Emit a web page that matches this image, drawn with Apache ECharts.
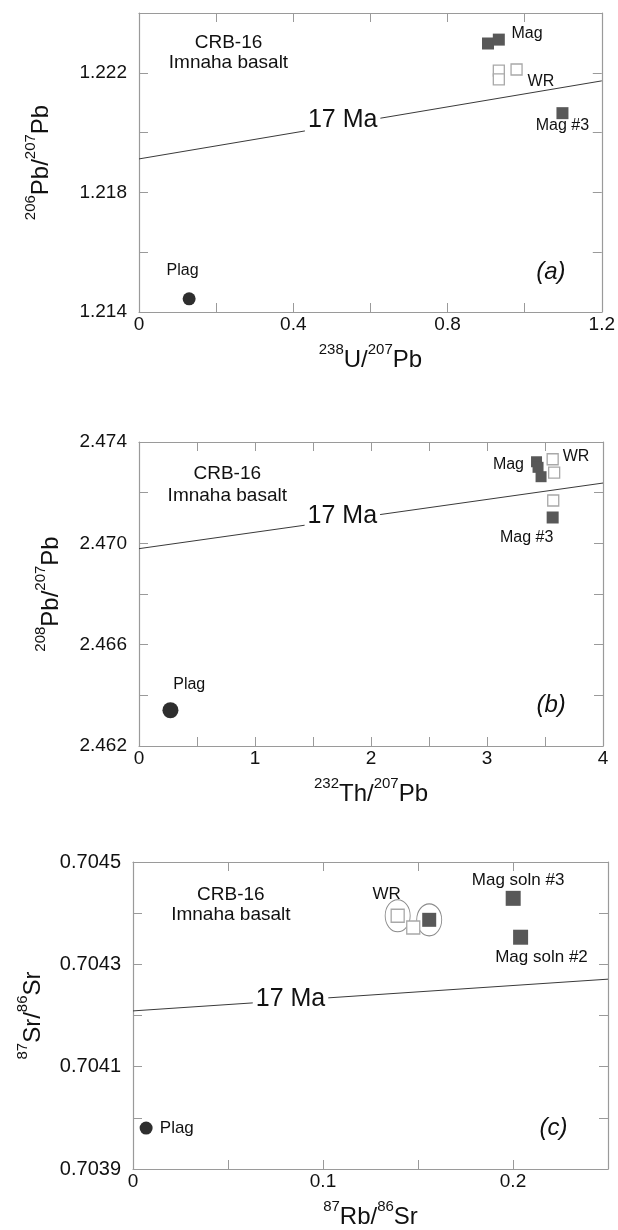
<!DOCTYPE html>
<html><head><meta charset="utf-8">
<script src="https://cdn.jsdelivr.net/npm/echarts@6/dist/echarts.min.js"></script>
<style>html,body{margin:0;padding:0;background:#fff}#c{width:618px;height:1230px}</style>
</head><body><div id="c"></div>
<script>
// ---------- Panel (a): 206Pb/207Pb vs 238U/207Pb ----------
const aMag  = [[0.905, 1.22298], [0.933, 1.22311]];
const aMag3 = [[1.098, 1.22065]];
const aWR   = [[0.933, 1.22207], [0.933, 1.22178], [0.979, 1.22211]];
const aPlag = [[0.130, 1.21444]];
const aIso  = [[0, 1.21912], [1.2, 1.22173]];
const aXTicks = ['0', '0.4', '0.8', '1.2'];
const aYTicks = ['1.214', '1.218', '1.222'];

// ---------- Panel (b): 208Pb/207Pb vs 232Th/207Pb ----------
const bMag  = [[3.427, 2.47322], [3.440, 2.47300], [3.466, 2.47263]];
const bMag3 = [[3.566, 2.47102]];
const bWR   = [[3.566, 2.47332], [3.579, 2.47279], [3.571, 2.47169]];
const bPlag = [[0.271, 2.46341]];
const bIso  = [[0, 2.46979], [4, 2.47238]];
const bXTicks = ['0', '1', '2', '3', '4'];
const bYTicks = ['2.462', '2.466', '2.470', '2.474'];

// ---------- Panel (c): 87Sr/86Sr vs 87Rb/86Sr ----------
const cMag  = [[0.2001, 0.704429], [0.2040, 0.704353]];
const cMagWR = [[0.1559, 0.704387]];
const cWR   = [[0.1393, 0.704395], [0.1475, 0.704372]];
const cCircled = [[0.1393, 0.704395], [0.1559, 0.704387]];
const cPlag = [[0.0069, 0.703980]];
const cIso  = [[0, 0.704209], [0.25, 0.704271]];
const cXTicks = ['0', '0.1', '0.2'];
const cYTicks = ['0.7039', '0.7041', '0.7043', '0.7045'];

const FONT = '"Liberation Sans", Arial, Helvetica, sans-serif';
const TXT = '#111111';
const AX = '#9a9a9a';

const nameRich = {
  m: { fontSize: 24, fontFamily: FONT, color: TXT, lineHeight: 30, verticalAlign: 'bottom' },
  s: { fontSize: 15, fontFamily: FONT, color: TXT, lineHeight: 18, verticalAlign: 'top' }
};

function labelFmt(list, dec) {
  return function (v) {
    const s = dec == null ? String(parseFloat(v.toFixed(4))) : v.toFixed(dec);
    return list.indexOf(s) >= 0 ? s : '';
  };
}

const grids = [
  { left: 139, top: 13, width: 464, height: 299 },
  { left: 139, top: 442, width: 464, height: 304 },
  { left: 133, top: 862, width: 475, height: 309 }
];

const panels = [
  { x: [0, 1.2, 0.2], y: [1.214, 1.224, 0.002], xt: aXTicks, yt: aYTicks, ydec: 3, ylf: 19,
    xname: '{s|238}{m|U/}{s|207}{m|Pb}', yname: '{s|206}{m|Pb/}{s|207}{m|Pb}', xgap: 30, ygap: 86 },
  { x: [0, 4, 0.5], y: [2.462, 2.474, 0.002], xt: bXTicks, yt: bYTicks, ydec: 3, ylf: 19,
    xname: '{s|232}{m|Th/}{s|207}{m|Pb}', yname: '{s|208}{m|Pb/}{s|207}{m|Pb}', xgap: 30, ygap: 76 },
  { x: [0, 0.25, 0.05], y: [0.7039, 0.7045, 0.0001], xt: cXTicks, yt: cYTicks, ydec: 4, ylf: 20,
    xname: '{s|87}{m|Rb/}{s|86}{m|Sr}', yname: '{s|87}{m|Sr/}{s|86}{m|Sr}', xgap: 30, ygap: 88 }
];

const xAxes = [], yAxes = [];
panels.forEach(function (p, i) {
  const base = { type: 'value', gridIndex: i, splitLine: { show: false },
    axisLine: { show: true, onZero: false, lineStyle: { color: AX, width: 1.2 } },
    axisTick: { show: true, inside: true, length: 9, lineStyle: { color: AX, width: 1 } } };
  xAxes.push(Object.assign({}, base, {
    position: 'bottom', min: p.x[0], max: p.x[1], interval: p.x[2],
    axisLabel: { fontSize: 19, color: TXT, fontFamily: FONT, margin: 3, formatter: labelFmt(p.xt, null) },
    name: p.xname, nameLocation: 'middle', nameGap: p.xgap, nameTextStyle: { rich: nameRich }
  }));
  xAxes.push(Object.assign({}, base, {
    position: 'top', min: p.x[0], max: p.x[1], interval: p.x[2], axisLabel: { show: false }
  }));
  yAxes.push(Object.assign({}, base, {
    position: 'left', min: p.y[0], max: p.y[1], interval: p.y[2],
    axisLabel: { fontSize: p.ylf, color: TXT, fontFamily: FONT, margin: 12, padding: [0, 0, 5, 0],
      formatter: labelFmt(p.yt, p.ydec) },
    name: p.yname, nameLocation: 'middle', nameGap: p.ygap, nameTextStyle: { rich: nameRich }
  }));
  yAxes.push(Object.assign({}, base, {
    position: 'right', min: p.y[0], max: p.y[1], interval: p.y[2], axisLabel: { show: false }
  }));
});

function ax(i, o) { return Object.assign({ xAxisIndex: 2 * i, yAxisIndex: 2 * i, silent: true }, o); }
function iso(i, data) {
  return ax(i, { type: 'line', data: data, showSymbol: false, symbol: 'none',
    lineStyle: { color: '#3a3a3a', width: 1 }, z: 2 });
}
function filled(i, data, size) {
  return ax(i, { type: 'scatter', data: data, symbol: 'rect', symbolSize: size,
    itemStyle: { color: '#585858', opacity: 1 }, z: 4 });
}
function open(i, data, size) {
  return ax(i, { type: 'scatter', data: data, symbol: 'rect', symbolSize: size,
    itemStyle: { color: '#ffffff', borderColor: '#a8a8a8', borderWidth: 1.3, opacity: 1 }, z: 3 });
}
function plag(i, data, size) {
  return ax(i, { type: 'scatter', data: data, symbol: 'circle', symbolSize: size,
    itemStyle: { color: '#2e2e2e', opacity: 1 }, z: 4 });
}
function t(name, x, y, size, extra) {
  return { name: name, value: [x, y],
    label: Object.assign({ fontSize: size, color: TXT, opacity: 1 }, extra || {}) };
}
function texts(i, items) {
  return ax(i, { type: 'scatter', symbolSize: 0, data: items, z: 6,
    itemStyle: { opacity: 1 },
    label: { show: true, position: 'inside', formatter: '{b}', color: TXT, fontFamily: FONT, opacity: 1 } });
}
const maLabel = { backgroundColor: '#ffffff', padding: [0, 3, 0, 3] };
const ital = { fontStyle: 'italic' };

const series = [
  // (a)
  iso(0, aIso),
  open(0, aWR, 11),
  filled(0, aMag, 12),
  filled(0, aMag3, 12),
  plag(0, aPlag, 13),
  texts(0, [
    t('CRB-16', 0.232, 1.2230, 19), t('Imnaha basalt', 0.232, 1.22233, 19),
    t('17 Ma', 0.528, 1.22043, 25, maLabel),
    t('Mag', 1.006, 1.22331, 16), t('WR', 1.042, 1.2217, 16), t('Mag #3', 1.098, 1.22023, 16),
    t('Plag', 0.113, 1.21539, 16), t('(a)', 1.068, 1.21533, 24, ital)
  ]),
  // (b)
  iso(1, bIso),
  open(1, bWR, 11),
  filled(1, bMag, 11),
  filled(1, bMag3, 12),
  plag(1, bPlag, 16),
  texts(1, [
    t('CRB-16', 0.761, 2.47275, 19), t('Imnaha basalt', 0.761, 2.47186, 19),
    t('17 Ma', 1.753, 2.47107, 25, maLabel),
    t('Mag', 3.319, 2.47312, 16, { position: 'left', distance: 0 }),
    t('WR', 3.767, 2.47341, 16), t('Mag #3', 3.342, 2.47023, 16),
    t('Plag', 0.433, 2.46443, 16), t('(b)', 3.553, 2.4636, 24, ital)
  ]),
  // (c)
  iso(2, cIso),
  ax(2, { type: 'scatter', data: cCircled, symbol: 'path://M0,-1A1,1,0,1,1,0,1A1,1,0,1,1,0,-1Z',
    symbolSize: [25, 32], itemStyle: { color: 'rgba(0,0,0,0)', borderColor: '#8a8a8a', borderWidth: 1, opacity: 1 }, z: 3 }),
  open(2, cWR, 13),
  filled(2, cMagWR, 14),
  filled(2, cMag, 15),
  plag(2, cPlag, 13),
  texts(2, [
    t('CRB-16', 0.0515, 0.704435, 19), t('Imnaha basalt', 0.0515, 0.704397, 19),
    t('17 Ma', 0.0829, 0.704233, 25, maLabel),
    t('WR', 0.1335, 0.704436, 17),
    t('Mag soln #3', 0.2027, 0.704464, 17), t('Mag soln #2', 0.215, 0.704314, 17),
    t('Plag', 0.0141, 0.70398, 17, { position: 'right', distance: 0 }),
    t('(c)', 0.2213, 0.70398, 24, ital)
  ])
];

const chart = echarts.init(document.getElementById('c'), null, { renderer: 'canvas' });
chart.setOption({
  animation: false,
  backgroundColor: '#ffffff',
  textStyle: { fontFamily: FONT },
  grid: grids,
  xAxis: xAxes,
  yAxis: yAxes,
  series: series
});
</script>
</body></html>
